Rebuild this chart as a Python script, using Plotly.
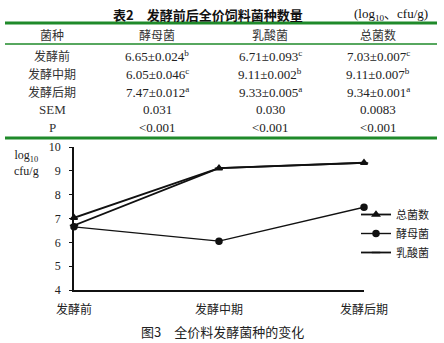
import plotly.graph_objects as go

W, H = 444, 343

# ---------------- data ----------------
stages = ["发酵前", "发酵中期", "发酵后期"]
series_names = ["总菌数", "酵母菌", "乳酸菌"]
total_vals = [7.03, 9.11, 9.34]
yeast_vals = [6.65, 6.05, 7.47]
lab_vals = [6.71, 9.11, 9.33]

table_header = ["菌种", "酵母菌", "乳酸菌", "总菌数"]
row_labels = ["发酵前", "发酵中期", "发酵后期", "SEM", "P"]
col_yeast = ["6.65±0.024<sup>b</sup>", "6.05±0.046<sup>c</sup>", "7.47±0.012<sup>a</sup>", "0.031", "<0.001"]
col_lab = ["6.71±0.093<sup>c</sup>", "9.11±0.002<sup>b</sup>", "9.33±0.005<sup>a</sup>", "0.030", "<0.001"]
col_total = ["7.03±0.007<sup>c</sup>", "9.11±0.007<sup>b</sup>", "9.34±0.001<sup>a</sup>", "0.0083", "<0.001"]

y_ticks = [4, 5, 6, 7, 8, 9, 10]


def px(x):
    return x / W


def py(y):
    return 1 - y / H


SERIF = "Liberation Serif, Times New Roman, Noto Sans CJK SC, serif"
CJK = "Noto Sans CJK SC, sans-serif"
GREEN = "#1f8a2a"

fig = go.Figure()
xs = list(range(len(stages)))
markers = ["triangle-up", "circle", "line-ew"]
for name, vals, sym in zip(series_names, [total_vals, yeast_vals, lab_vals], markers):
    fig.add_trace(go.Scatter(
        x=xs, y=vals, name=name, mode="lines+markers",
        line=dict(color="#111", width=1.8 if name != "酵母菌" else 1.4),
        marker=dict(symbol=sym, size=6, color="#111",
                    line=dict(color="#111", width=1.5)),
        cliponaxis=False,
    ))

ann = []
# table title
ann.append(dict(x=px(208), y=py(14), text="<b>表2　发酵前后全价饲料菌种数量</b>",
                font=dict(family=CJK, size=13, color="#111")))
ann.append(dict(x=px(391), y=py(14), text="(log<sub>10</sub>、cfu/g)",
                font=dict(family=SERIF, size=13, color="#111")))
col_x = [52, 157, 270, 378]
for cx, t in zip(col_x, table_header):
    ann.append(dict(x=px(cx), y=py(34), text=t, font=dict(family=CJK, size=12, color="#333")))
row_y = [56, 74, 92, 110, 128]
for i, ry in enumerate(row_y):
    ann.append(dict(x=px(col_x[0]), y=py(ry), text=row_labels[i].replace("<", "&lt;"),
                    font=dict(family=SERIF if i >= 3 else CJK, size=12 if i < 3 else 13, color="#333")))
    for cx, col in zip(col_x[1:], [col_yeast, col_lab, col_total]):
        ann.append(dict(x=px(cx), y=py(ry), text=col[i].replace("<0", "&lt;0"),
                        font=dict(family=SERIF, size=13, color="#222")))

# caption
ann.append(dict(x=px(222), y=py(331), text="图3　全价料发酵菌种的变化",
                font=dict(family=CJK, size=13, color="#222")))
for a in ann:
    a.update(xref="paper", yref="paper", showarrow=False, xanchor="center", yanchor="middle")

# y axis title (left anchored)
ann.append(dict(x=px(12), y=py(163), text="log<sub>10</sub><br>cfu/g", xref="paper", yref="paper",
                showarrow=False, xanchor="left", yanchor="middle", align="center",
                font=dict(family=SERIF, size=12, color="#222")))

shapes = [
    dict(type="line", xref="paper", yref="paper", x0=px(5), x1=px(437), y0=py(23), y1=py(23),
         line=dict(color=GREEN, width=3)),
    dict(type="line", xref="paper", yref="paper", x0=px(5), x1=px(437), y0=py(44), y1=py(44),
         line=dict(color=GREEN, width=1.5)),
    dict(type="line", xref="paper", yref="paper", x0=px(5), x1=px(437), y0=py(138), y1=py(138),
         line=dict(color=GREEN, width=3)),
]

fig.update_layout(
    width=W, height=H, margin=dict(l=0, r=0, t=0, b=0, autoexpand=False),
    paper_bgcolor="white", plot_bgcolor="white",
    annotations=ann, shapes=shapes,
    xaxis=dict(domain=[px(74), px(364)], range=[0, 2], tickvals=xs, ticktext=stages,
               showline=True, linecolor="#111", linewidth=1.8, showgrid=False, zeroline=False,
               ticks="", ticklabelstandoff=8, automargin=False,
               tickfont=dict(family=CJK, size=12, color="#222")),
    yaxis=dict(domain=[py(290), py(147)], range=[4, 10], tickvals=y_ticks,
               showline=True, linecolor="#111", linewidth=1.8, showgrid=False, zeroline=False,
               ticks="outside", ticklen=3, tickcolor="#111", ticklabelstandoff=6, automargin=False,
               tickfont=dict(family=SERIF, size=12, color="#222")),
    legend=dict(x=px(356), y=py(200), xanchor="left", yanchor="top",
                font=dict(family=CJK, size=11, color="#222"), itemwidth=30,
                bgcolor="rgba(0,0,0,0)", tracegroupgap=0),
    showlegend=True,
)

fig.write_html("out.html")
